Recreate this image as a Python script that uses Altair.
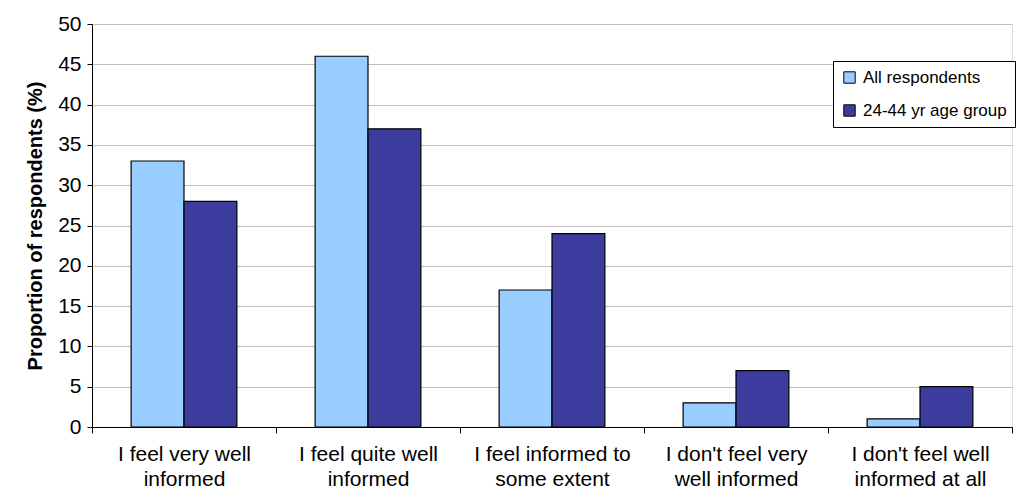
import altair as alt
import pandas as pd

categories = [
    "I feel very well|informed",
    "I feel quite well|informed",
    "I feel informed to|some extent",
    "I don't feel very|well informed",
    "I don't feel well|informed at all",
]
series = ["All respondents", "24-44 yr age group"]
all_respondents = [33, 46, 17, 3, 1]
age_24_44 = [28, 37, 24, 7, 5]
colors = ["#99ccff", "#3c3c9f"]

rows = []
for cat, a, b in zip(categories, all_respondents, age_24_44):
    rows.append({"category": cat, "series": series[0], "value": a})
    rows.append({"category": cat, "series": series[1], "value": b})
df = pd.DataFrame(rows)

font = "Liberation Sans"

chart = (
    alt.Chart(df)
    .mark_bar(stroke="black", strokeWidth=1.2)
    .encode(
        x=alt.X(
            "category:N",
            sort=categories,
            scale=alt.Scale(paddingInner=0.0, paddingOuter=0.0),
            axis=alt.Axis(
                title=None,
                labelAngle=0,
                labelExpr="split(datum.label, '|')",
                labelFont=font,
                labelFontSize=21,
                labelColor="black",
                labelLineHeight=25,
                labelPadding=10,
                tickBand="extent",
                tickColor="black",
                tickSize=6,
                domainColor="black",
                grid=False,
            ),
        ),
        xOffset=alt.XOffset(
            "series:N",
            sort=series,
            scale=alt.Scale(paddingOuter=0.74, paddingInner=0.0),
        ),
        y=alt.Y(
            "value:Q",
            scale=alt.Scale(domain=[0, 50]),
            axis=alt.Axis(
                title="Proportion of respondents (%)",
                titleFont=font,
                titleFontSize=20,
                titleFontWeight="bold",
                titleColor="black",
                titlePadding=12,
                values=list(range(0, 51, 5)),
                labelFont=font,
                labelFontSize=21,
                labelColor="black",
                labelPadding=6,
                tickColor="black",
                tickSize=5,
                domainColor="black",
                gridColor="#c0c0c0",
                gridWidth=1,
            ),
        ),
        fill=alt.Fill(
            "series:N",
            sort=series,
            scale=alt.Scale(domain=series, range=colors),
            legend=alt.Legend(
                title=None,
                orient="none",
                legendX=741,
                legendY=37,
                labelFont=font,
                labelFontSize=17,
                labelColor="black",
                labelOffset=5,
                symbolType="square",
                symbolSize=130,
                symbolStrokeColor="black",
                symbolStrokeWidth=1,
                rowPadding=15,
                padding=8,
                strokeColor="black",
                fillColor="white",
                labelLimit=300,
            ),
        ),
    )
    .properties(
        width=920,
        height=403,
        autosize=alt.AutoSizeParams(type="none"),
        padding={"left": 92, "top": 24, "right": 7, "bottom": 73},
    )
    .configure_view(stroke=None)
    .configure(background="white")
)

chart.save("out.html", embed_options={"renderer": "svg", "actions": False})
